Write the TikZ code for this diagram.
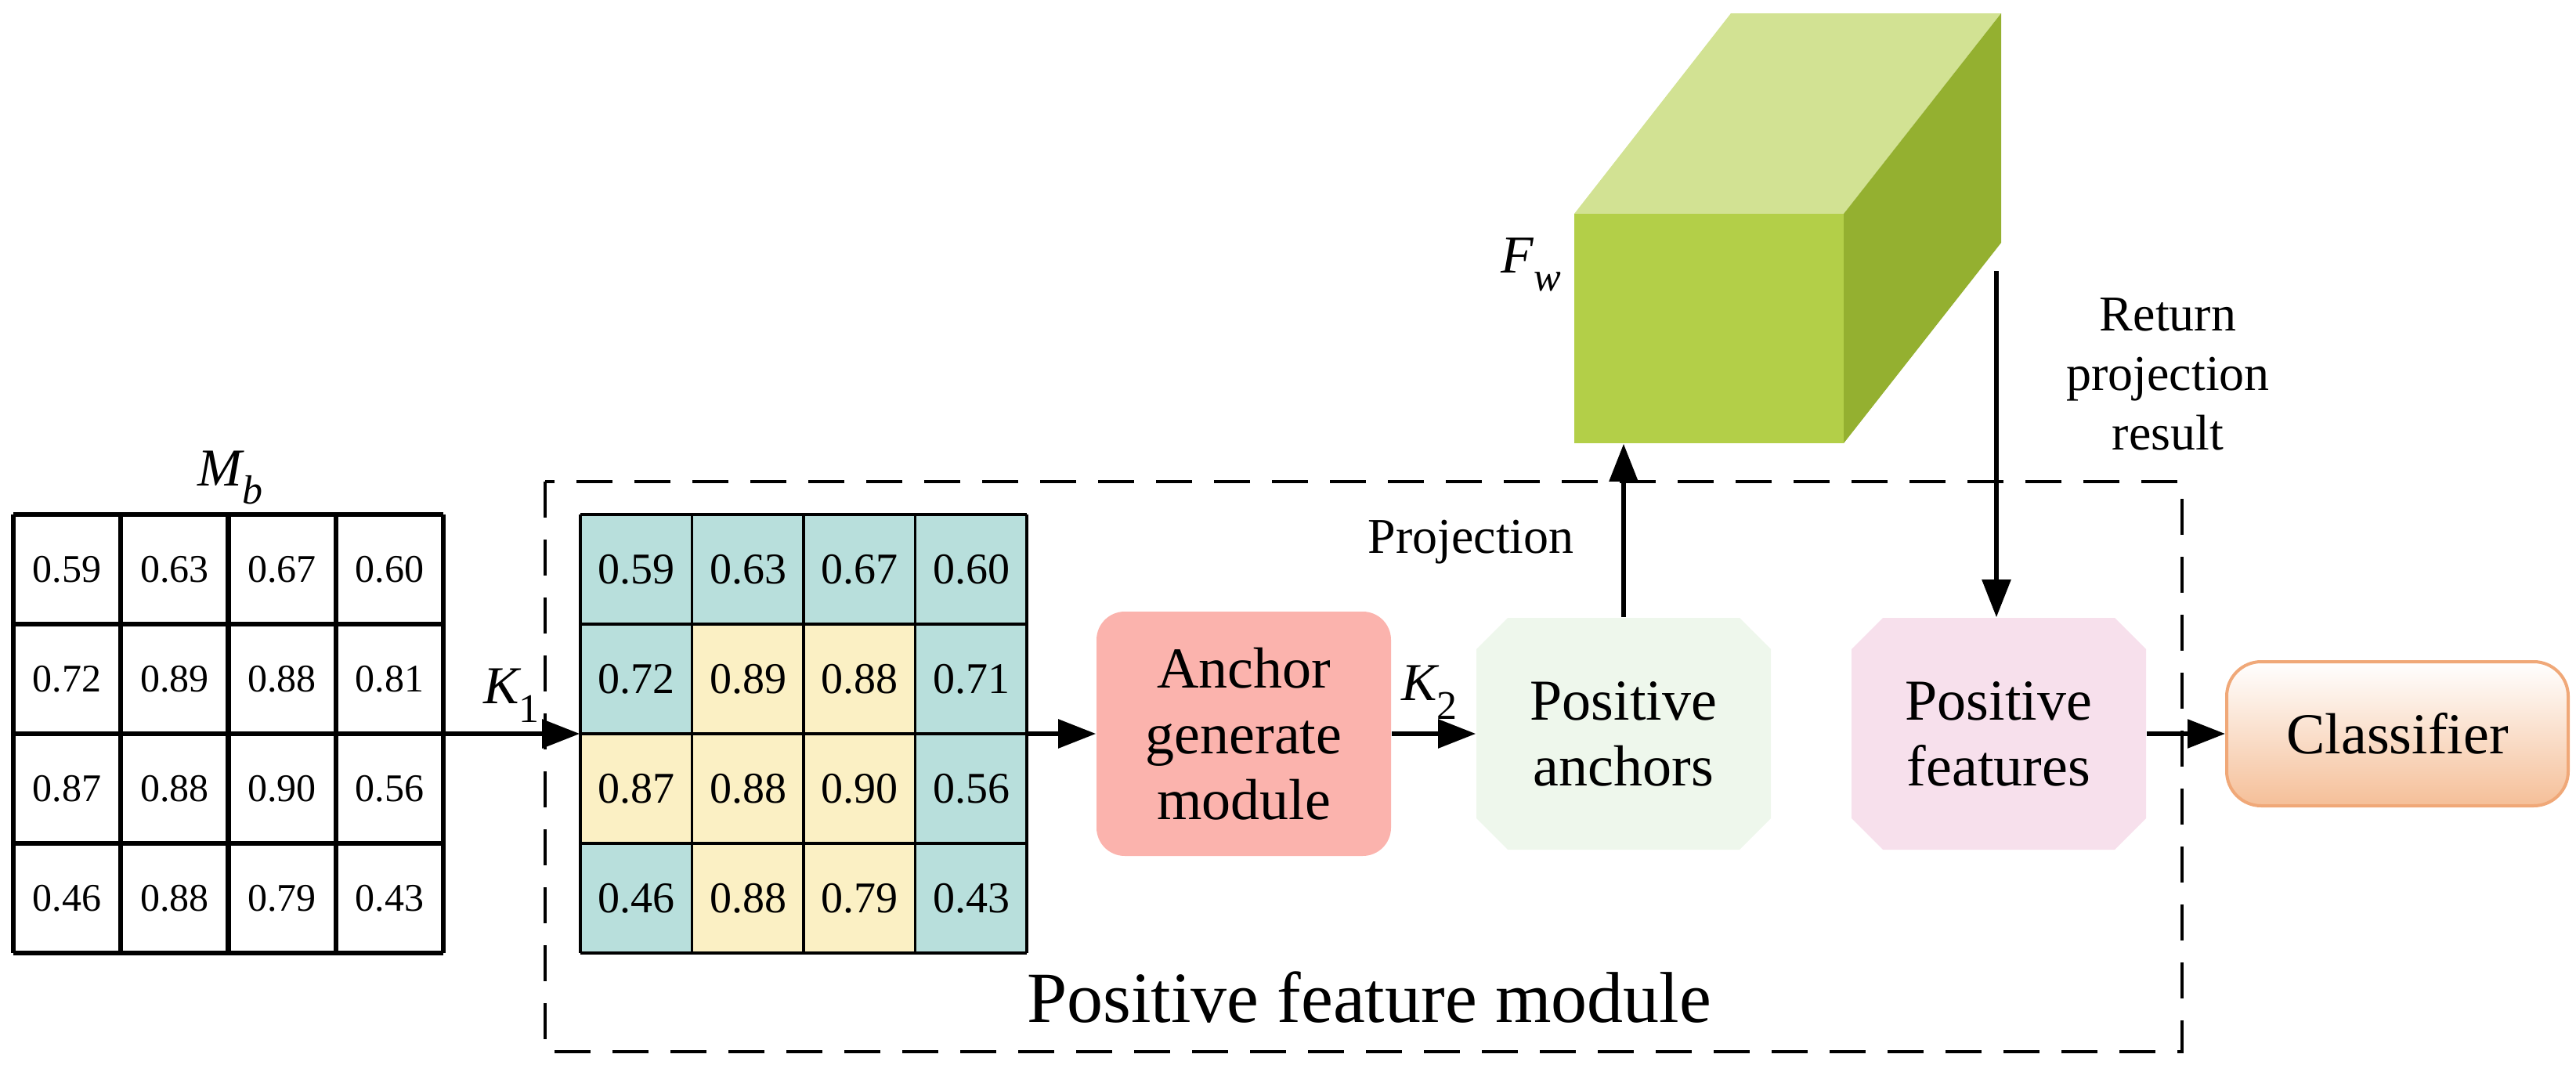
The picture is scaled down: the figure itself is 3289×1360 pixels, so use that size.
\documentclass[tikz,border=0pt]{standalone}
\usepackage{fontspec}
\setmainfont{Liberation Serif}
\usetikzlibrary{arrows.meta,shapes.misc}
\definecolor{teal}{HTML}{B8DFDC}
\definecolor{yel}{HTML}{FBF0C4}
\definecolor{anc}{HTML}{FBB3AD}
\definecolor{pan}{HTML}{EEF7EC}
\definecolor{pfe}{HTML}{F7E0EC}
\definecolor{clb}{HTML}{F0A878}
\definecolor{clf}{HTML}{F5BF98}
\definecolor{cfront}{HTML}{B3CF48}
\definecolor{ctop}{HTML}{D2E293}
\definecolor{cside}{HTML}{94B030}
\tikzset{
 every node/.style={font=\rmfamily},
 arr/.style={line width=1.4pt,-{Triangle[length=12pt,width=9pt]}},
 num/.style={font=\rmfamily\fontsize{12.5}{14}\selectfont,inner sep=0},
 lab/.style={font=\rmfamily\fontsize{18.5}{21}\selectfont,align=center,inner sep=0},
 sm/.style={font=\rmfamily\fontsize{16}{19}\selectfont,align=center,inner sep=0},
 box/.style={lab,minimum width=94pt,minimum height=78pt},
 cham/.style={lab,chamfered rectangle,chamfered rectangle xsep=5pt,chamfered rectangle ysep=5pt,minimum width=94pt,minimum height=74pt}
}
\begin{document}
\begin{tikzpicture}[x=0.25pt,y=-0.25pt]
\useasboundingbox (0,0) rectangle (3289,1360);
% left grid
\node[minimum width=137pt,minimum height=140pt,inner sep=0] (L) at (291.5,937) {};
\foreach \r/\vals in {0/{0.59,0.63,0.67,0.60},1/{0.72,0.89,0.88,0.81},2/{0.87,0.88,0.90,0.56},3/{0.46,0.88,0.79,0.43}}{
 \foreach \v [count=\c from 0] in \vals {
  \node[num] (l-\r-\c) at (17+137.25*\c+68.6,657+140*\r+70) {\v};
 }}
\foreach \i in {0,...,4}{
 \draw[line width=1.6pt] (17+137.25*\i,657) -- (17+137.25*\i,1217);
 \draw[line width=1.6pt] (17,657+140*\i) -- (566,657+140*\i);}
\node[font=\rmfamily\fontsize{17}{19}\selectfont\itshape,inner sep=0] (Mb) at (294,610) {M\raisebox{-0.35em}{\fontsize{13}{14}\selectfont b}};
% coloured grid
\node[minimum width=142.5pt,minimum height=140pt,inner sep=0] (C) at (1026,937) {};
\foreach \r/\a/\b/\cc/\d/\ca/\cb/\ccc/\cd in {0/0.59/0.63/0.67/0.60/teal/teal/teal/teal,1/0.72/0.89/0.88/0.71/teal/yel/yel/teal,2/0.87/0.88/0.90/0.56/yel/yel/yel/teal,3/0.46/0.88/0.79/0.43/teal/yel/yel/teal}{
 \fill[\ca] (741,657+140*\r) rectangle ++(142.5,140);
 \fill[\cb] (883.5,657+140*\r) rectangle ++(142.5,140);
 \fill[\ccc] (1026,657+140*\r) rectangle ++(142.5,140);
 \fill[\cd] (1168.5,657+140*\r) rectangle ++(142.5,140);
 \node[num,font=\rmfamily\fontsize{14}{15}\selectfont] (c-\r-0) at (812,727+140*\r) {\a};
 \node[num,font=\rmfamily\fontsize{14}{15}\selectfont] (c-\r-1) at (955,727+140*\r) {\b};
 \node[num,font=\rmfamily\fontsize{14}{15}\selectfont] (c-\r-2) at (1097,727+140*\r) {\cc};
 \node[num,font=\rmfamily\fontsize{14}{15}\selectfont] (c-\r-3) at (1240,727+140*\r) {\d};
}
\foreach \i in {0,...,4}{
 \draw[line width=0.8pt] (741+142.5*\i,657) -- (741+142.5*\i,1217);
 \draw[line width=0.8pt] (741,657+140*\i) -- (1311,657+140*\i);}
% dashed module box
\draw[line width=1.1pt,dash pattern=on 11.5pt off 7pt] (696,615) rectangle (2786,1343);
\node[font=\rmfamily\fontsize{23}{26}\selectfont,inner sep=0] (pfm) at (1748,1274) {Positive feature module};
% boxes
\node[box,fill=anc,rounded corners=9pt] (A) at (1588,937) {Anchor\\generate\\module};
\node[cham,fill=pan] (PA) at (2073,937) {Positive\\anchors};
\node[cham,fill=pfe] (PF) at (2552,937) {Positive\\features};
\node[lab,minimum width=109pt,minimum height=46pt,rounded corners=11pt,draw=clb,line width=1pt,top color=white,bottom color=clf] (CL) at (3061,937) {Classifier};
% cube
\fill[ctop] (2010,273) -- (2210,17) -- (2555,17) -- (2354,273) -- cycle;
\fill[cside] (2354,273) -- (2555,17) -- (2555,310) -- (2354,566) -- cycle;
\node[fill=cfront,minimum width=86pt,minimum height=73.25pt,inner sep=0] (F) at (2182,419.5) {};
\node[font=\rmfamily\fontsize{17}{19}\selectfont\itshape,inner sep=0] (Fw) at (1955,338) {F\raisebox{-0.35em}{\fontsize{13}{14}\selectfont w}};
\coordinate (rs) at (2549,346);
% arrows
\draw[arr] (L.east) -- (C.west) node[pos=0.5,above=3pt,font=\rmfamily\fontsize{17}{19}\selectfont\itshape,inner sep=0] {K\raisebox{-0.35em}{\fontsize{13}{14}\selectfont\upshape 1}};
\draw[arr] (C.east) -- (A.west);
\draw[arr] (A.east) -- (PA.west) node[pos=0.45,above=4pt,font=\rmfamily\fontsize{17}{19}\selectfont\itshape,inner sep=0] {K\raisebox{-0.35em}{\fontsize{13}{14}\selectfont\upshape 2}};
\draw[arr] (PA.north) -- (PA.north|-F.south);
\node[sm] (pj) at (1878,692) {Projection};
\draw[arr] (rs) -- (rs|-PF.north);
\node[sm] (rt) at (2768,478) {Return\\projection\\result};
\draw[arr] (PF.east) -- (CL.west);
\end{tikzpicture}
\end{document}
